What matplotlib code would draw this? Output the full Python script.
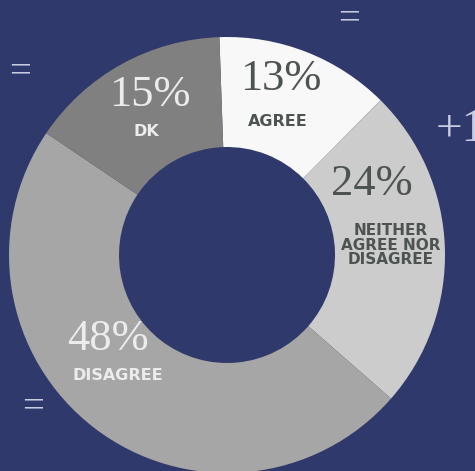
import matplotlib
matplotlib.use("Agg")
import matplotlib.pyplot as plt

# Survey data
categories = ["AGREE", "NEITHER\nAGREE NOR\nDISAGREE", "DISAGREE", "DK"]
shares = [13, 24, 48, 15]
slice_colors = ["#f8f8f8", "#cccccc", "#a6a6a6", "#808080"]
text_colors = ["#4c5351", "#4c5351", "#ececec", "#ececec"]

# label anchor points in pixel space (x, y from top): percent, category
pct_pos = [(281, 79), (372, 184), (108, 339), (150, 95)]
cat_pos = [(278, 122), (391, 245), (118, 375), (146, 131)]

BG = "#30396b"
W, H = 475, 471

fig = plt.figure(figsize=(W / 100, H / 100), dpi=100, facecolor=BG)
ax = fig.add_axes([0, 0, 1, 1])
ax.set_facecolor(BG)

# donut, starting just left of 12 o'clock going clockwise
ax.pie(shares, colors=slice_colors, startangle=92, counterclock=False,
       center=(227, H - 255), radius=218,
       wedgeprops=dict(width=110, edgecolor="none"))

ax.set_xlim(0, W)
ax.set_ylim(0, H)
ax.set_aspect("equal")
ax.axis("off")

for i, cat in enumerate(categories):
    px, py = pct_pos[i]
    ax.text(px, H - py, f"{shares[i]}%", ha="center", va="center",
            fontsize=32, family="Liberation Serif", color=text_colors[i])
    cx, cy = cat_pos[i]
    fs = 11.5 if i != 1 else 11
    ax.text(cx, H - cy, cat, ha="center", va="center", fontsize=fs,
            fontweight="bold", family="DejaVu Sans", color=text_colors[i],
            linespacing=0.92)

# little markers around the ring
deco = "#c9cde2"
for x, y in [(349, 20), (20, 73), (33, 408)]:
    ax.text(x, H - y, "=", ha="center", va="center", fontsize=28,
            family="Liberation Serif", color=deco)
ax.text(436, H - 130, "+1", ha="left", va="center", fontsize=34,
        family="Liberation Serif", color=deco)

fig.savefig("out.png", dpi=100, facecolor=BG)
